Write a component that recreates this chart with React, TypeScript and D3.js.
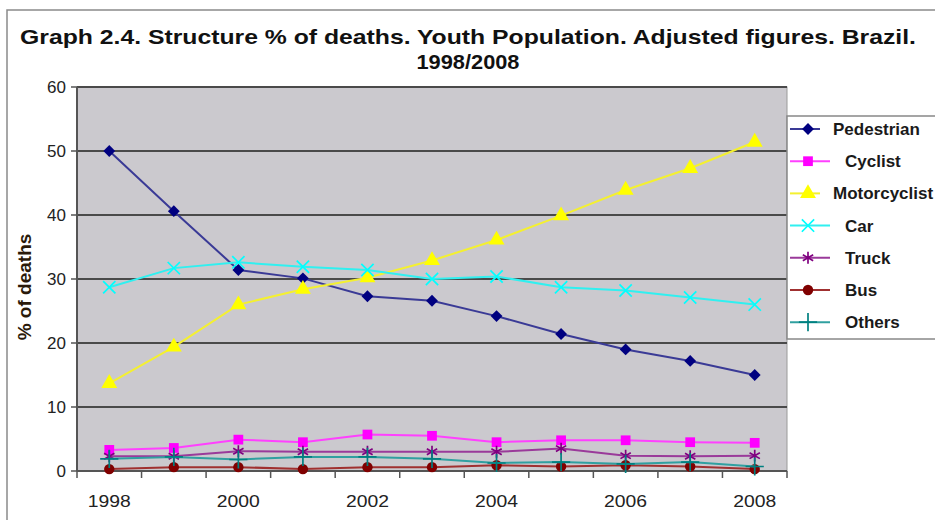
import React from "react";
import * as d3 from "d3";

const years = [1998, 1999, 2000, 2001, 2002, 2003, 2004, 2005, 2006, 2007, 2008];
const yTicks = [0, 10, 20, 30, 40, 50, 60];
const xLabelYears = [1998, 2000, 2002, 2004, 2006, 2008];

const pedestrian = [50.0, 40.6, 31.4, 30.1, 27.3, 26.6, 24.2, 21.4, 19.0, 17.2, 15.0];
const cyclist = [3.3, 3.6, 4.9, 4.5, 5.7, 5.5, 4.5, 4.8, 4.8, 4.5, 4.4];
const motorcyclist = [13.7, 19.4, 26.0, 28.4, 30.2, 32.9, 36.1, 39.9, 43.9, 47.3, 51.4];
const car = [28.7, 31.7, 32.6, 31.9, 31.4, 30.0, 30.4, 28.7, 28.2, 27.1, 26.0];
const truck = [2.3, 2.3, 3.1, 3.0, 3.0, 3.0, 3.0, 3.5, 2.4, 2.3, 2.4];
const bus = [0.3, 0.6, 0.6, 0.3, 0.6, 0.6, 0.9, 0.7, 0.9, 0.7, 0.3];
const others = [1.9, 2.2, 1.8, 2.2, 2.2, 1.9, 1.25, 1.4, 1.1, 1.4, 0.7];

const seriesNames = ["Pedestrian", "Cyclist", "Motorcyclist", "Car", "Truck", "Bus", "Others"];
const seriesValues = [pedestrian, cyclist, motorcyclist, car, truck, bus, others];

const colors = ["#000080", "#FF00FF", "#FFFF00", "#00FFFF", "#800080", "#800000", "#008080"];
const lineColors = ["#3a3a96", "#ff40ff", "#f4f030", "#30f0f0", "#9a3a9a", "#a03030", "#30a0a0"];
const symbols = [
  { type: d3.symbolSquare, size: 70, stroke: false, rotate: 45 },
  { type: d3.symbolSquare, size: 95, stroke: false, rotate: 0 },
  { type: d3.symbolTriangle, size: 110, stroke: false, rotate: 0 },
  { type: d3.symbolTimes, size: 100, stroke: true, rotate: 0 },
  { type: d3.symbolAsterisk, size: 100, stroke: true, rotate: 0 },
  { type: d3.symbolCircle, size: 85, stroke: false, rotate: 0 },
  { type: d3.symbolPlus, size: 110, stroke: true, rotate: 0 },
];

const W = 935;
const H = 520;
const plotL = 77;
const plotR = 787;
const plotT = 87;
const plotB = 471;

export default function App() {
  const x = d3.scaleBand<number>().domain(years).range([plotL, plotR]).padding(0);
  const cx = (yr: number) => (x(yr) as number) + x.bandwidth() / 2;
  const y = d3.scaleLinear().domain([0, 60]).range([plotB, plotT]);
  const line = d3
    .line<number>()
    .x((_, i) => cx(years[i]))
    .y((d) => y(d));

  const bandEdges = [...years.map((yr) => x(yr) as number), plotR];
  const legendTop = 129;
  const legendStep = 32.2;
  const legendLabelX = [833, 845, 833, 845, 845, 845, 845];

  const marker = (si: number, px: number, py: number, key: string) => {
    const s = symbols[si];
    const path = d3.symbol().type(s.type).size(s.size)() as string;
    return (
      <path
        key={key}
        d={path}
        transform={`translate(${px},${py}) rotate(${s.rotate})`}
        fill={s.stroke ? "none" : colors[si]}
        stroke={s.stroke ? colors[si] : "none"}
        strokeWidth={s.stroke ? 1.7 : 0}
      />
    );
  };

  return (
    <svg
      width={W}
      height={H}
      style={{ position: "absolute", left: 0, top: 0, background: "#fff" }}
      fontFamily="'Liberation Sans', Arial, sans-serif"
    >
      <rect x={7} y={10} width={W} height={H} fill="#fff" stroke="#8a8a8a" strokeWidth={1.5} />
      <text x={468} y={44} textAnchor="middle" fontSize={21} fontWeight="bold" fill="#111" textLength={896} lengthAdjust="spacingAndGlyphs">
        Graph 2.4. Structure % of deaths. Youth Population. Adjusted figures. Brazil.
      </text>
      <text x={468} y={69} textAnchor="middle" fontSize={21} fontWeight="bold" fill="#111" textLength={103} lengthAdjust="spacingAndGlyphs">
        1998/2008
      </text>

      <rect x={plotL} y={plotT} width={plotR - plotL} height={plotB - plotT} fill="#cbc9ce" stroke="#9a9a9a" strokeWidth={1} />
      {yTicks.filter((t) => t > 0).map((t) => (
        <line key={t} x1={plotL} x2={plotR} y1={y(t)} y2={y(t)} stroke="#4a4a4a" strokeWidth={2} />
      ))}
      <line x1={plotL} x2={plotL} y1={plotT} y2={plotB} stroke="#555" strokeWidth={2} />
      <line x1={plotL} x2={plotR} y1={plotB} y2={plotB} stroke="#555" strokeWidth={2} />
      {yTicks.map((t) => (
        <g key={t}>
          <line x1={plotL - 6} x2={plotL} y1={y(t)} y2={y(t)} stroke="#555" strokeWidth={1.5} />
          <text x={plotL - 11} y={y(t) + 6} textAnchor="end" fontSize={17} fill="#222">
            {t}
          </text>
        </g>
      ))}
      {bandEdges.map((e, i) => (
        <line key={i} x1={e} x2={e} y1={plotB} y2={plotB + 7} stroke="#555" strokeWidth={1.5} />
      ))}
      {xLabelYears.map((yr) => (
        <text key={yr} x={cx(yr)} y={507} textAnchor="middle" fontSize={17} fill="#222" textLength={43} lengthAdjust="spacingAndGlyphs">
          {yr}
        </text>
      ))}
      <text transform="translate(31,287) rotate(-90)" textAnchor="middle" fontSize={19} fontWeight="bold" fill="#2a1a0a">
        % of deaths
      </text>

      {seriesValues.map((vals, si) => (
        <g key={seriesNames[si]}>
          <path d={line(vals) as string} fill="none" stroke={lineColors[si]} strokeWidth={2} />
          {vals.map((v, i) => marker(si, cx(years[i]), y(v), `${si}-${i}`))}
        </g>
      ))}

      <rect x={787} y={116} width={160} height={223} fill="#fff" stroke="#888" strokeWidth={1.5} />
      {seriesNames.map((name, si) => {
        const ly = legendTop + si * legendStep;
        const x2 = si === 0 || si === 2 ? 820 : 830;
        return (
          <g key={name}>
            <line x1={790} x2={x2} y1={ly} y2={ly} stroke={lineColors[si]} strokeWidth={2} />
            {marker(si, 808, ly, `leg-${si}`)}
            <text x={legendLabelX[si]} y={ly + 6} fontSize={17} fontWeight="bold" fill="#1a1a1a">
              {name}
            </text>
          </g>
        );
      })}
    </svg>
  );
}
